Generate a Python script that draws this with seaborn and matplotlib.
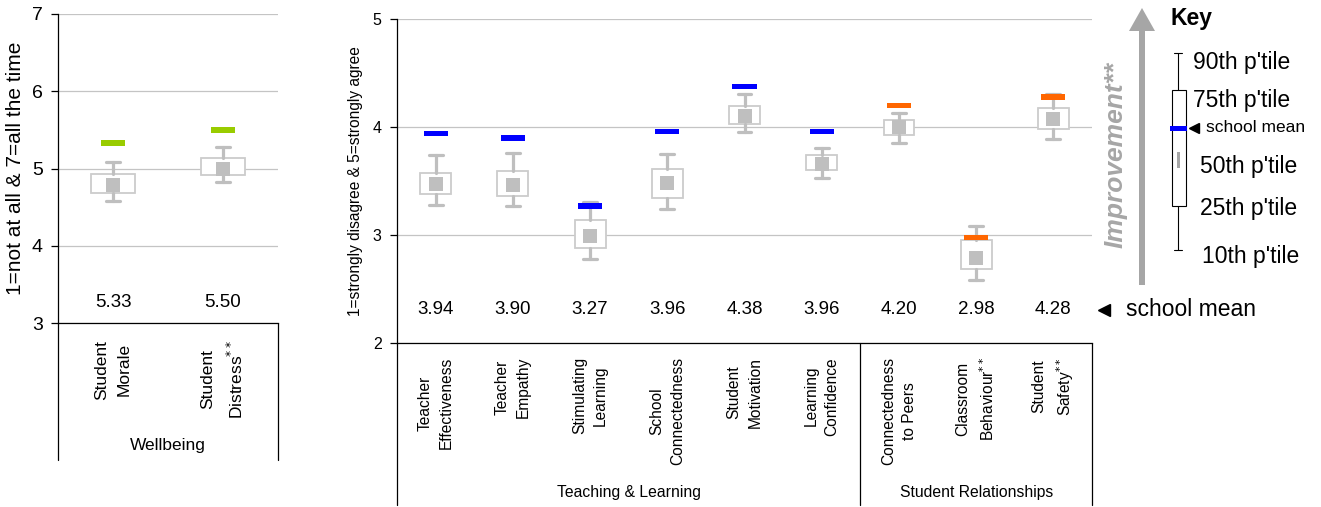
import numpy as np
import pandas as pd
import matplotlib.pyplot as plt
import matplotlib.transforms as mtransforms
from matplotlib.patches import Rectangle, FancyArrow
from matplotlib.path import Path
import seaborn as sns

# Wellbeing scale (1=not at all & 7=all the time)
wb_labels = ['Student\nMorale', 'Student\nDistress$^{**}$']
wb_p10 = [4.58, 4.82]
wb_p25 = [4.68, 4.92]
wb_p50 = [4.79, 5.00]
wb_p75 = [4.93, 5.13]
wb_p90 = [5.08, 5.28]
wb_mean = [5.33, 5.50]
wb_groups = ['Wellbeing', 'Wellbeing']

# agreement scale (1=strongly disagree & 5=strongly agree)
sc_labels = ['Teacher\nEffectiveness', 'Teacher\nEmpathy', 'Stimulating\nLearning',
             'School\nConnectedness', 'Student\nMotivation', 'Learning\nConfidence',
             'Connectedness\nto Peers', 'Classroom\nBehaviour$^{**}$', 'Student\nSafety$^{**}$']
sc_p10 = [3.28, 3.27, 2.78, 3.24, 3.96, 3.53, 3.855, 2.58, 3.89]
sc_p25 = [3.38, 3.36, 2.885, 3.34, 4.03, 3.60, 3.93, 2.685, 3.98]
sc_p50 = [3.475, 3.46, 2.995, 3.48, 4.10, 3.66, 4.00, 2.79, 4.08]
sc_p75 = [3.58, 3.595, 3.14, 3.61, 4.20, 3.74, 4.07, 2.955, 4.18]
sc_p90 = [3.74, 3.76, 3.31, 3.75, 4.305, 3.81, 4.135, 3.08, 4.31]
sc_mean = [3.94, 3.90, 3.27, 3.96, 4.38, 3.96, 4.20, 2.98, 4.28]
sc_groups = ['Teaching & Learning'] * 6 + ['Student Relationships'] * 3

group_colors = {'Wellbeing': '#99cc00',
                'Teaching & Learning': '#0000ff',
                'Student Relationships': '#ff6600'}

sns.set_theme(style='white')
plt.rcParams['font.family'] = ['Liberation Sans', 'DejaVu Sans']
for k in ['text.color', 'axes.labelcolor', 'xtick.color', 'ytick.color']:
    plt.rcParams[k] = 'black'

W, H = 1321, 507
fig = plt.figure(figsize=(W / 100, H / 100), dpi=100)


def px_axes(x0, y0, x1, y1):
    return fig.add_axes([x0 / W, 1 - y1 / H, (x1 - x0) / W, (y1 - y0) / H])


# wide flat rectangle marker for the school mean
mean_bar = Path([(-1, -0.22), (1, -0.22), (1, 0.22), (-1, 0.22), (-1, -0.22)],
                [Path.MOVETO, Path.LINETO, Path.LINETO, Path.LINETO, Path.CLOSEPOLY])


def panel(ax, labels, p10, p25, p50, p75, p90, means, groups, ylim, capw,
          val_y, tick_size, lab_size, lab_pad, lab_spacing):
    n = len(labels)
    pos = np.arange(n)
    stats = [dict(whislo=a, q1=b, med=c, q3=d, whishi=e, fliers=[])
             for a, b, c, d, e in zip(p10, p25, p50, p75, p90)]
    ax.bxp(stats, positions=pos, widths=0.4, capwidths=capw, patch_artist=True,
           showfliers=False, manage_ticks=False,
           boxprops=dict(facecolor='white', edgecolor='#cccccc', linewidth=1.3),
           whiskerprops=dict(color='#bfbfbf', linewidth=2.3),
           capprops=dict(color='#bfbfbf', linewidth=2.3),
           medianprops=dict(linewidth=0))
    df = pd.DataFrame({'pos': pos, 'median': p50, 'mean': means, 'group': groups})
    sns.scatterplot(data=df, x='pos', y='median', marker='s', s=100, color='#bfbfbf',
                    linewidth=0, ax=ax, zorder=4)
    sns.scatterplot(data=df, x='pos', y='mean', hue='group', palette=group_colors,
                    marker=mean_bar, s=300, linewidth=0, legend=False, ax=ax, zorder=5)
    ax.set_xlabel('')
    ax.set_ylabel('')
    ax.set_xlim(-0.5, n - 0.5)
    ax.set_ylim(*ylim)
    ax.set_yticks(np.arange(ylim[0], ylim[1] + 1))
    ax.yaxis.grid(True, color='#c4c4c4', linewidth=0.9)
    ax.set_axisbelow(True)
    for s in ['top', 'right']:
        ax.spines[s].set_visible(False)
    for s in ['left', 'bottom']:
        ax.spines[s].set_color('black')
        ax.spines[s].set_linewidth(0.9)
    ax.tick_params(axis='y', left=True, length=5, width=0.9, color='black', pad=6,
                   labelsize=tick_size)
    ax.set_xticks(pos)
    ax.set_xticklabels(labels, rotation=90, ha='center', va='top',
                       multialignment='center', fontsize=lab_size,
                       linespacing=lab_spacing)
    ax.tick_params(axis='x', bottom=False, length=0, pad=lab_pad)
    tr = mtransforms.blended_transform_factory(ax.transData, ax.transAxes)
    for x, m in zip(pos, means):
        ax.text(x, val_y, f'{m:.2f}', transform=tr, ha='center', va='center',
                fontsize=13.5)
    return tr


# left panel: Wellbeing
ax_wb = px_axes(58, 14, 278, 323)
tr = panel(ax_wb, wb_labels, wb_p10, wb_p25, wb_p50, wb_p75, wb_p90, wb_mean,
           wb_groups, (3, 7), 0.127, 0.066, 14, 12.5, 12, 1.6)
for xa in [0, 1]:
    ax_wb.plot([xa, xa], [0, -0.443], transform=ax_wb.transAxes, color='black',
               lw=0.9, clip_on=False)
ax_wb.text(0.5, -0.395, 'Wellbeing', transform=tr, ha='center', va='center',
           fontsize=12.5)
ax_wb.text(-0.192, 0.5, '1=not at all & 7=all the time', transform=ax_wb.transAxes,
           rotation=90, ha='center', va='center', fontsize=15)

# right panel: teaching, learning and relationships
ax_sc = px_axes(397, 19.3, 1092, 343)
tr = panel(ax_sc, sc_labels, sc_p10, sc_p25, sc_p50, sc_p75, sc_p90, sc_mean,
           sc_groups, (2, 5), 0.18, 0.105, 11.5, 11.2, 10, 1.5)
for xa in [0, 1]:
    ax_sc.plot([xa, xa], [0, -0.5], transform=ax_sc.transAxes, color='black',
               lw=0.9, clip_on=False)
ax_sc.plot([5.5, 5.5], [0, -0.5], transform=tr, color='black', lw=0.9, clip_on=False)
ax_sc.text(2.5, -0.463, 'Teaching & Learning', transform=tr, ha='center',
           va='center', fontsize=11.3)
ax_sc.text(7, -0.463, 'Student Relationships', transform=tr, ha='center',
           va='center', fontsize=11.3)
ax_sc.text(-0.0604, 0.5, '1=strongly disagree & 5=strongly agree',
           transform=ax_sc.transAxes, rotation=90, ha='center', va='center',
           fontsize=11.2)

# key, drawn in figure pixel coordinates
ax_k = fig.add_axes([0, 0, 1, 1])
ax_k.set_xlim(0, W)
ax_k.set_ylim(H, 0)
ax_k.axis('off')
grey = '#a6a6a6'
ax_k.add_patch(FancyArrow(1142, 285, 0, -277, width=6, head_width=26, head_length=23,
                          length_includes_head=True, color=grey, lw=0))
ax_k.text(1116, 155, 'Improvement**', rotation=90, ha='center', va='center',
          fontsize=19, fontweight='bold', fontstyle='italic', color=grey)
ax_k.text(1171, 18, 'Key', ha='left', va='center', fontsize=16.5, fontweight='bold')
ax_k.plot([1178, 1178], [53, 250], color='black', lw=0.8)
ax_k.plot([1174, 1182], [53, 53], color='black', lw=0.8)
ax_k.plot([1174, 1182], [250, 250], color='black', lw=0.8)
ax_k.add_patch(Rectangle((1172, 90), 14, 116, facecolor='white', edgecolor='black',
                         lw=0.8, zorder=3))
ax_k.add_patch(Rectangle((1170, 125.5), 17, 5, facecolor='#0000ff', lw=0, zorder=4))
ax_k.add_patch(Rectangle((1177, 152), 3, 16, facecolor=grey, lw=0, zorder=4))
ax_k.plot(1194, 128, marker='<', ms=6.5, color='black', lw=0)
ax_k.text(1206, 128, 'school mean', ha='left', va='center', fontsize=12.5)
for lab, x, y in [("90th p'tile", 1193, 63), ("75th p'tile", 1193, 100),
                  ("50th p'tile", 1200, 167), ("25th p'tile", 1200, 208),
                  ("10th p'tile", 1202, 257)]:
    ax_k.text(x, y, lab, ha='left', va='center', fontsize=16.5)
ax_k.plot(1104, 310, marker='<', ms=8.5, color='black', lw=0)
ax_k.text(1126, 310, 'school mean', ha='left', va='center', fontsize=16.5)

fig.savefig('out.png', dpi=100)
